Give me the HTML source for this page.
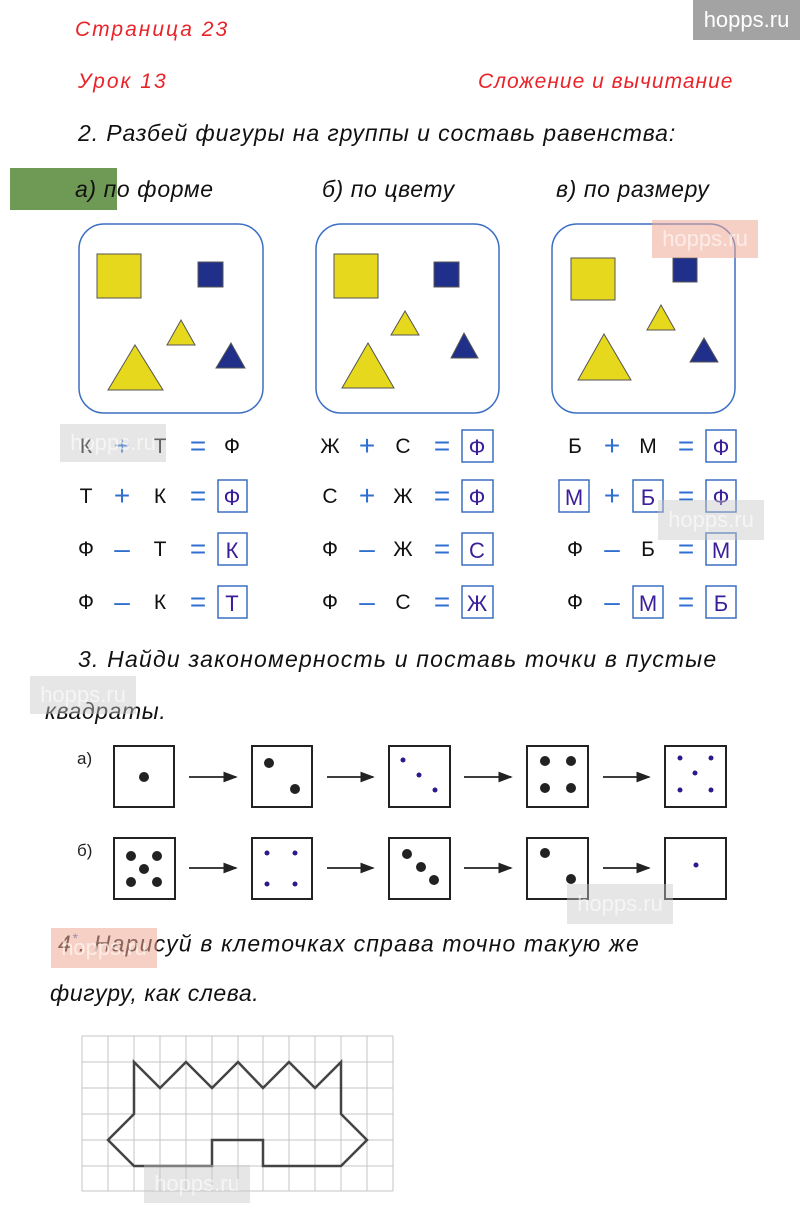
<!DOCTYPE html>
<html><head><meta charset="utf-8"><style>
body{margin:0;background:#fff;}
.p{position:relative;width:800px;height:1222px;overflow:hidden;font-family:"Liberation Sans",sans-serif;}
.t{position:absolute;white-space:nowrap;font-style:italic;}
.r{color:#e8242a;font-size:21px;letter-spacing:2px;}
.k{color:#111;font-size:23px;letter-spacing:0.6px;}
.wm{position:absolute;color:#fff;font-size:22px;font-family:"Liberation Sans Narrow","Liberation Sans",sans-serif;text-align:center;line-height:40px;}
.wl{color:rgba(255,255,255,0.6);}
</style></head><body><div class="p">
<div class="wm" style="left:693px;top:0;width:107px;height:40px;background:#a3a3a3">hopps.ru</div>
<div class="t r" style="left:75px;top:18px;">Страница 23</div>
<div class="t r" style="left:78px;top:70px;">Урок 13</div>
<div class="t r" style="left:478px;top:70px;letter-spacing:1px">Сложение и вычитание</div>
<div class="t k" style="left:78px;top:120px;letter-spacing:0.9px">2. Разбей фигуры на группы и составь равенства:</div>
<div class="wm" style="left:10px;top:168px;width:107px;height:42px;background:#6f9a55;"></div>
<div class="t k" style="left:75px;top:176px;">а) по форме</div>
<div class="t k" style="left:322px;top:176px;">б) по цвету</div>
<div class="t k" style="left:556px;top:176px;">в) по размеру</div>
<div class="t k" style="left:78px;top:646px;letter-spacing:1.2px">3. Найди закономерность и поставь точки в пустые</div>
<div class="t k" style="left:45px;top:698px;">квадраты.</div>
<div class="t k" style="left:58px;top:930px;letter-spacing:1.2px">4<sup style="color:#3a6fd0;font-size:14px">*</sup>. Нарисуй в клеточках справа точно такую же</div>
<div class="t k" style="left:50px;top:980px;">фигуру, как слева.</div>
<svg width="800" height="1222" style="position:absolute;left:0;top:0" font-family="Liberation Sans, sans-serif">
<g fill="none" stroke="#3b6fc4" stroke-width="1.5">
<rect x="79" y="224" width="184" height="189" rx="25"/>
<rect x="316" y="224" width="183" height="189" rx="25"/>
<rect x="552" y="224" width="183" height="189" rx="25"/>
</g>
<g stroke="#555" stroke-width="1">
<rect x="97" y="254" width="44" height="44" fill="#e6d81c"/>
<rect x="198" y="262" width="25" height="25" fill="#1f2f8a"/>
<polygon points="167,345 195,345 181,320" fill="#e6d81c"/>
<polygon points="108,390 163,390 135,345" fill="#e6d81c"/>
<polygon points="216,368 245,368 231,343" fill="#1f2f8a"/>
<rect x="334" y="254" width="44" height="44" fill="#e6d81c"/>
<rect x="434" y="262" width="25" height="25" fill="#1f2f8a"/>
<polygon points="391,335 419,335 405,311" fill="#e6d81c"/>
<polygon points="342,388 394,388 368,343" fill="#e6d81c"/>
<polygon points="451,358 478,358 464,333" fill="#1f2f8a"/>
<rect x="571" y="258" width="44" height="42" fill="#e6d81c"/>
<rect x="673" y="258" width="24" height="24" fill="#1f2f8a"/>
<polygon points="647,330 675,330 661,305" fill="#e6d81c"/>
<polygon points="578,380 631,380 604,334" fill="#e6d81c"/>
<polygon points="690,362 718,362 704,338" fill="#1f2f8a"/>
</g>
<g font-size="21" text-anchor="middle" fill="#111">
<text x="86" y="453">К</text><text x="160" y="453">Т</text><text x="232" y="453">Ф</text>
<text x="86" y="503">Т</text><text x="160" y="503">К</text>
<text x="86" y="556">Ф</text><text x="160" y="556">Т</text>
<text x="86" y="609">Ф</text><text x="160" y="609">К</text>
<text x="330" y="453">Ж</text><text x="403" y="453">С</text>
<text x="330" y="503">С</text><text x="403" y="503">Ж</text>
<text x="330" y="556">Ф</text><text x="403" y="556">Ж</text>
<text x="330" y="609">Ф</text><text x="403" y="609">С</text>
<text x="575" y="453">Б</text><text x="648" y="453">М</text>
<text x="575" y="556">Ф</text><text x="648" y="556">Б</text>
<text x="575" y="609">Ф</text>
</g>
<g font-size="28" text-anchor="middle" fill="#2f6fd0">
<text x="122" y="455">+</text><text x="122" y="505">+</text><text x="122" y="558">–</text><text x="122" y="611">–</text>
<text x="198" y="455">=</text><text x="198" y="505">=</text><text x="198" y="558">=</text><text x="198" y="611">=</text>
<text x="367" y="455">+</text><text x="367" y="505">+</text><text x="367" y="558">–</text><text x="367" y="611">–</text>
<text x="442" y="455">=</text><text x="442" y="505">=</text><text x="442" y="558">=</text><text x="442" y="611">=</text>
<text x="612" y="455">+</text><text x="612" y="505">+</text><text x="612" y="558">–</text><text x="612" y="611">–</text>
<text x="686" y="455">=</text><text x="686" y="505">=</text><text x="686" y="558">=</text><text x="686" y="611">=</text>
</g>
<g fill="none" stroke="#3b6fc4" stroke-width="1.5">
<rect x="218" y="480" width="29" height="32"/><rect x="218" y="533" width="29" height="32"/><rect x="218" y="586" width="29" height="32"/>
<rect x="462" y="430" width="31" height="32"/><rect x="462" y="480" width="31" height="32"/><rect x="462" y="533" width="31" height="32"/><rect x="462" y="586" width="31" height="32"/>
<rect x="706" y="430" width="30" height="32"/><rect x="706" y="480" width="30" height="32"/><rect x="706" y="533" width="30" height="32"/><rect x="706" y="586" width="30" height="32"/>
<rect x="559" y="480" width="30" height="32"/><rect x="633" y="480" width="30" height="32"/><rect x="633" y="586" width="30" height="32"/>
</g>
<g font-size="22" text-anchor="middle" fill="#3a1e9a">
<text x="232" y="505">Ф</text><text x="232" y="558">К</text><text x="232" y="611">Т</text>
<text x="477" y="455">Ф</text><text x="477" y="505">Ф</text><text x="477" y="558">С</text><text x="477" y="611">Ж</text>
<text x="721" y="455">Ф</text><text x="721" y="505">Ф</text><text x="721" y="558">М</text><text x="721" y="611">Б</text>
<text x="574" y="505">М</text><text x="648" y="505">Б</text><text x="648" y="611">М</text>
</g>
<g font-size="17" fill="#222"><text x="77" y="764">а)</text><text x="77" y="856">б)</text></g>
<g fill="#fff" stroke="#222" stroke-width="2">
<rect x="114" y="746" width="60" height="61"/><rect x="252" y="746" width="60" height="61"/><rect x="389" y="746" width="61" height="61"/><rect x="527" y="746" width="61" height="61"/><rect x="665" y="746" width="61" height="61"/>
<rect x="114" y="838" width="61" height="61"/><rect x="252" y="838" width="60" height="61"/><rect x="389" y="838" width="61" height="61"/><rect x="527" y="838" width="61" height="61"/><rect x="665" y="838" width="61" height="61"/>
</g>
<defs><marker id="a" markerWidth="8" markerHeight="8" refX="7" refY="4" orient="auto"><path d="M0,1 L8,4 L0,7z" fill="#222"/></marker></defs>
<g stroke="#222" stroke-width="1.8" marker-end="url(#a)">
<line x1="189" y1="777" x2="236" y2="777"/><line x1="327" y1="777" x2="373" y2="777"/><line x1="464" y1="777" x2="511" y2="777"/><line x1="603" y1="777" x2="649" y2="777"/>
<line x1="189" y1="868" x2="236" y2="868"/><line x1="327" y1="868" x2="373" y2="868"/><line x1="464" y1="868" x2="511" y2="868"/><line x1="603" y1="868" x2="649" y2="868"/>
</g>
<g fill="#222">
<circle cx="144" cy="777" r="5"/><circle cx="269" cy="763" r="5"/><circle cx="295" cy="789" r="5"/>
<circle cx="545" cy="761" r="5"/><circle cx="571" cy="761" r="5"/><circle cx="545" cy="788" r="5"/><circle cx="571" cy="788" r="5"/>
<circle cx="131" cy="856" r="5"/><circle cx="157" cy="856" r="5"/><circle cx="144" cy="869" r="5"/><circle cx="131" cy="882" r="5"/><circle cx="157" cy="882" r="5"/>
<circle cx="407" cy="854" r="5"/><circle cx="421" cy="867" r="5"/><circle cx="434" cy="880" r="5"/>
<circle cx="545" cy="853" r="5"/><circle cx="571" cy="879" r="5"/>
</g>
<g fill="#2a1a8a">
<circle cx="403" cy="760" r="2.5"/><circle cx="419" cy="775" r="2.5"/><circle cx="435" cy="790" r="2.5"/>
<circle cx="680" cy="758" r="2.5"/><circle cx="711" cy="758" r="2.5"/><circle cx="695" cy="773" r="2.5"/><circle cx="680" cy="790" r="2.5"/><circle cx="711" cy="790" r="2.5"/>
<circle cx="267" cy="853" r="2.5"/><circle cx="295" cy="853" r="2.5"/><circle cx="267" cy="884" r="2.5"/><circle cx="295" cy="884" r="2.5"/>
<circle cx="696" cy="865" r="2.5"/>
</g>
<g stroke="#c4c4c4" stroke-width="1">
<path d="M82,1036H393M82,1062H393M82,1088H393M82,1114H393M82,1140H393M82,1166H393M82,1191H393"/>
<path d="M82,1036V1191M108,1036V1191M134,1036V1191M160,1036V1191M186,1036V1191M212,1036V1191M238,1036V1191M263,1036V1191M289,1036V1191M315,1036V1191M341,1036V1191M367,1036V1191M393,1036V1191"/>
</g>
<polygon fill="none" stroke="#444" stroke-width="2.5" points="134,1062 160,1088 186,1062 212,1088 238,1062 263,1088 289,1062 315,1088 341,1062 341,1114 367,1140 341,1166 263,1166 263,1140 212,1140 212,1166 134,1166 108,1140 134,1114"/>
</svg>
<div class="wm wl" style="left:652px;top:220px;width:106px;height:38px;background:rgba(240,170,150,0.55);line-height:38px">hopps.ru</div>
<div class="wm wl" style="left:60px;top:424px;width:106px;height:38px;background:rgba(200,200,200,0.45);line-height:38px">hopps.ru</div>
<div class="wm wl" style="left:658px;top:500px;width:106px;height:40px;background:rgba(200,200,200,0.45)">hopps.ru</div>
<div class="wm wl" style="left:30px;top:676px;width:106px;height:38px;background:rgba(200,200,200,0.45);line-height:38px">hopps.ru</div>
<div class="wm wl" style="left:567px;top:884px;width:106px;height:40px;background:rgba(200,200,200,0.45)">hopps.ru</div>
<div class="wm wl" style="left:51px;top:928px;width:106px;height:40px;background:rgba(240,170,150,0.55)">hopps.ru</div>
<div class="wm wl" style="left:144px;top:1165px;width:106px;height:38px;background:rgba(200,200,200,0.45);line-height:38px">hopps.ru</div>
</div></body></html>
